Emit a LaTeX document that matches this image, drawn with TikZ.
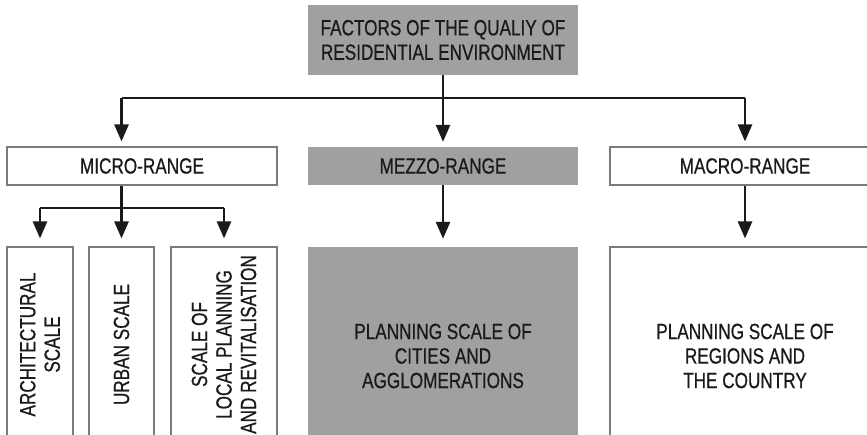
\documentclass[tikz,border=0pt]{standalone}
\usepackage{fontspec}
\setmainfont{Liberation Sans}[FakeStretch=0.78,FakeBold=0.6]
\usetikzlibrary{arrows.meta}
\definecolor{boxgray}{HTML}{A0A0A0}
\definecolor{edgegray}{HTML}{7A7A7A}
\definecolor{ink}{HTML}{1A1A1A}
\tikzset{
  lbl/.style={font=\fontsize{22}{24.5}\selectfont, text=ink, align=center, inner sep=0pt},
  whitebox/.style={lbl, draw=edgegray, line width=1.1pt, fill=white},
  graybox/.style={lbl, fill=boxgray},
  arr/.style={line width=2.6pt, draw=ink, -{Triangle[width=14pt,length=17pt]}},
  conn/.style={line width=2.6pt, draw=ink}
}
\begin{document}
\begin{tikzpicture}[x=1pt,y=-1pt]
\useasboundingbox (0,0) rectangle (867,435);
\clip (0,0) rectangle (867,435);
% top
\node[graybox, minimum width=270pt, minimum height=70pt] (top) at (443,40) {FACTORS OF THE QUALIY OF\\RESIDENTIAL ENVIRONMENT};
% ranges
\node[whitebox, minimum width=270pt, minimum height=38pt] (micro) at (142,166) {MICRO-RANGE};
\node[graybox, minimum width=270pt, minimum height=38pt] (mezzo) at (443,166) {MEZZO-RANGE};
\node[whitebox, minimum width=270pt, minimum height=38pt] (macro) at (745,166) {MACRO-RANGE};
% micro scales
\node[whitebox, rotate=90, minimum width=195pt, minimum height=66pt] (arch) at (40,344.5) {ARCHITECTURAL\\SCALE};
\node[whitebox, rotate=90, minimum width=195pt, minimum height=65pt] (urban) at (121.5,344.5) {URBAN SCALE};
\node[whitebox, rotate=90, minimum width=195pt, minimum height=106pt] (local) at (224,344.5) {SCALE OF\\LOCAL PLANNING\\AND REVITALISATION};
% big boxes
\node[graybox, minimum width=270pt, minimum height=218pt] (cities) at (443,356) {PLANNING SCALE OF\\CITIES AND\\AGGLOMERATIONS};
\node[whitebox, minimum width=270pt, minimum height=218pt] (regions) at (745,356) {PLANNING SCALE OF\\REGIONS AND\\THE COUNTRY};
% connectors from top
\coordinate (hub) at (443,98);
\draw[conn] (top.south) -- (hub);
\draw[conn] (hub -| urban) -- (hub -| macro);
\draw[arr, shorten >=5pt] (hub -| urban) -- (micro.north -| urban);
\draw[arr, shorten >=5pt] (hub) -- (mezzo.north);
\draw[arr, shorten >=5pt] (hub -| macro) -- (macro.north);
% micro branch
\coordinate (mj) at (121.5,208);
\draw[conn] (micro.south -| mj) -- (mj);
\draw[conn] (mj -| arch) -- (mj -| local);
\draw[arr, shorten >=8pt] (mj -| arch) -- (arch.east);
\draw[arr, shorten >=8pt] (mj) -- (urban.east);
\draw[arr, shorten >=8pt] (mj -| local) -- (local.east);
% mezzo and macro
\draw[arr, shorten >=8pt] (mezzo.south) -- (cities.north);
\draw[arr, shorten >=8pt] (macro.south) -- (regions.north);
\end{tikzpicture}
\end{document}
